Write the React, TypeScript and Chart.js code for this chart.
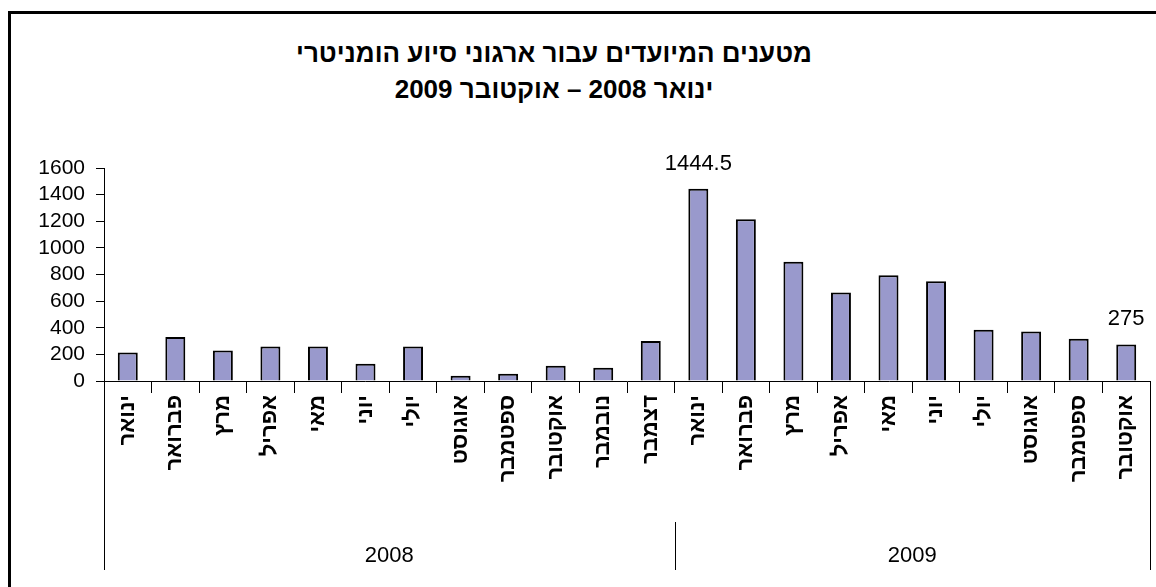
import React, { useEffect, useRef } from 'react';
import { Chart, registerables } from 'chart.js';

Chart.register(...registerables);

const FONT = 'Arial, "Liberation Sans", sans-serif';

const titleLines = ['מטענים המיועדים עבור ארגוני סיוע הומניטרי', 'ינואר 2008 – אוקטובר 2009'];

const monthLabels = [
  'ינואר', 'פברואר', 'מרץ', 'אפריל', 'מאי', 'יוני', 'יולי', 'אוגוסט', 'ספטמבר', 'אוקטובר', 'נובמבר', 'דצמבר',
  'ינואר', 'פברואר', 'מרץ', 'אפריל', 'מאי', 'יוני', 'יולי', 'אוגוסט', 'ספטמבר', 'אוקטובר',
];

const values = [215, 330, 230, 260, 260, 130, 260, 40, 55, 115, 100, 300, 1444.5, 1215, 895, 665, 795, 750, 385, 372, 317, 275];

const yearLabels = ['2008', '2009'];
const yearMonthCounts = [12, 10];

const annotatedIndices = [12, 21];

const yTickValues = [0, 200, 400, 600, 800, 1000, 1200, 1400, 1600];

const totalMonths = yearMonthCounts.reduce((a, b) => a + b, 0);
const yearBounds: number[] = [0];
yearMonthCounts.forEach((c) => yearBounds.push(yearBounds[yearBounds.length - 1] + c));
const yearCenters = yearMonthCounts.map((c, i) => yearBounds[i] + c / 2);

const dataLabelPlugin = {
  id: 'dataLabels',
  afterDatasetsDraw(chart: any) {
    const ctx = chart.ctx;
    const meta = chart.getDatasetMeta(0);
    ctx.save();
    ctx.font = `22px ${FONT}`;
    ctx.fillStyle = '#000';
    ctx.textAlign = 'center';
    ctx.textBaseline = 'middle';
    annotatedIndices.forEach((i) => {
      const el = meta.data[i];
      ctx.fillText(String(values[i]), el.x, el.y - 25);
    });
    ctx.restore();
  },
};

const groupLinesPlugin = {
  id: 'groupLines',
  afterDraw(chart: any) {
    const x2 = chart.scales.x2;
    const { ctx, chartArea } = chart;
    ctx.save();
    ctx.strokeStyle = '#000';
    ctx.lineWidth = 1;
    yearBounds.forEach((b, k) => {
      const px = Math.round(x2.getPixelForValue(b)) + 0.5;
      const top = k === 0 || k === yearBounds.length - 1 ? chartArea.bottom : x2.top;
      ctx.beginPath();
      ctx.moveTo(px, top);
      ctx.lineTo(px, x2.bottom);
      ctx.stroke();
    });
    ctx.restore();
  },
};

export default function App() {
  const canvasRef = useRef<HTMLCanvasElement | null>(null);

  useEffect(() => {
    const canvas = canvasRef.current;
    if (!canvas) return;
    const chart = new Chart(canvas, {
      type: 'bar',
      data: {
        labels: monthLabels,
        datasets: [
          {
            data: values,
            backgroundColor: '#9999cc',
            borderColor: '#000',
            borderWidth: 2,
            categoryPercentage: 1,
            barPercentage: 0.42,
            borderSkipped: 'bottom',
          },
        ],
      },
      options: {
        responsive: false,
        animation: false,
        layout: { padding: { left: 0, right: 6, top: 168, bottom: 17 } },
        plugins: {
          legend: { display: false },
          title: { display: false },
          tooltip: { enabled: false },
        },
        scales: {
          x: {
            type: 'category',
            position: 'bottom',
            weight: 0,
            offset: true,
            grid: { display: true, drawOnChartArea: false, offset: true, tickLength: 12, color: '#000', lineWidth: 1 },
            border: { display: true, color: '#000', width: 1 },
            ticks: {
              autoSkip: false,
              maxRotation: 90,
              minRotation: 90,
              padding: 2,
              color: '#000',
              font: { family: FONT, size: 22, weight: 'bold' },
            },
            afterFit: (s: any) => {
              s.height = 141;
            },
          },
          x2: {
            type: 'linear',
            position: 'bottom',
            weight: 1,
            offset: false,
            min: 0,
            max: totalMonths,
            grid: { display: false, offset: false },
            border: { display: false },
            afterBuildTicks: (s: any) => {
              s.ticks = yearCenters.map((v) => ({ value: v }));
            },
            ticks: {
              padding: 13,
              autoSkip: false,
              maxRotation: 0,
              color: '#000',
              font: { family: FONT, size: 22 },
              callback: (_v: any, i: number) => yearLabels[i],
            },
            afterFit: (s: any) => {
              s.height = 48;
            },
          },
          y: {
            min: yTickValues[0],
            max: yTickValues[yTickValues.length - 1],
            afterBuildTicks: (s: any) => {
              s.ticks = yTickValues.map((v) => ({ value: v }));
            },
            ticks: {
              autoSkip: false,
              padding: 11,
              color: '#000',
              font: { family: FONT, size: 21 },
              callback: (v: any) => String(v),
            },
            grid: { drawOnChartArea: false, tickLength: 8, color: '#000' },
            border: { display: true, color: '#000', width: 1 },
            afterFit: (s: any) => {
              s.width = 104;
            },
          },
        },
      } as any,
      plugins: [dataLabelPlugin, groupLinesPlugin],
    });
    return () => chart.destroy();
  }, []);

  return (
    <div style={{ position: 'absolute', left: 0, top: 0, width: 1156, height: 587, overflow: 'hidden' }}>
      <div
        style={{
          position: 'absolute',
          left: 8,
          top: 11,
          width: 1148,
          height: 576,
          boxSizing: 'border-box',
          borderLeft: '3px solid #000',
          borderTop: '3px solid #000',
        }}
      />
      <div
        dir="rtl"
        style={{
          position: 'absolute',
          left: 0,
          top: 35,
          width: 1108,
          textAlign: 'center',
          fontFamily: FONT,
          fontWeight: 'bold',
          fontSize: 26,
          lineHeight: '36px',
          color: '#000',
        }}
      >
        <div>{titleLines[0]}</div>
        <div>{titleLines[1]}</div>
      </div>
      <canvas ref={canvasRef} width={1156} height={587} style={{ position: 'absolute', left: 0, top: 0 }} />
    </div>
  );
}
